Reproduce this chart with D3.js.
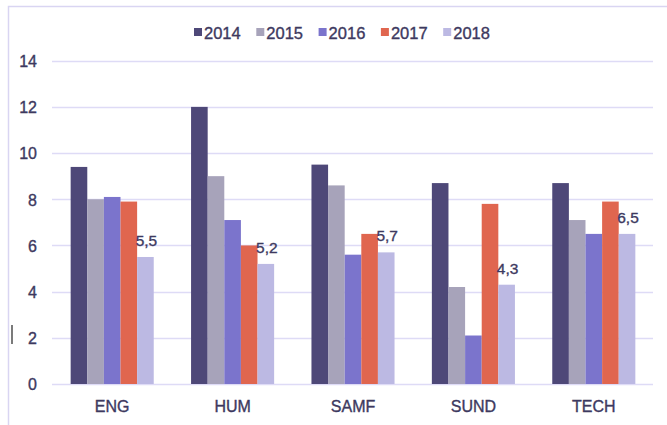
<!DOCTYPE html>
<html>
<head>
<meta charset="utf-8">
<script src="https://cdn.jsdelivr.net/npm/d3@7"></script>
<style>
  html, body { margin: 0; padding: 0; background: #ffffff; }
  svg { display: block; font-family: "Liberation Sans", Arial, sans-serif; }
  svg text { stroke: #3d3960; stroke-width: 0.35px; }
</style>
</head>
<body>
<svg id="chart" width="667" height="425"></svg>
<script>
const categories = ["ENG", "HUM", "SAMF", "SUND", "TECH"];
const seriesNames = ["2014", "2015", "2016", "2017", "2018"];
const v2014 = [9.4, 12.0, 9.5, 8.7, 8.7];
const v2015 = [8.0, 9.0, 8.6, 4.2, 7.1];
const v2016 = [8.1, 7.1, 5.6, 2.1, 6.5];
const v2017 = [7.9, 6.0, 6.5, 7.8, 7.9];
const v2018 = [5.5, 5.2, 5.7, 4.3, 6.5];
const yTicks = [0, 2, 4, 6, 8, 10, 12, 14];
const labeledSeries = "2018";

const colors = ["#4e4878", "#a7a3ba", "#7b74cc", "#e0664f", "#bcb9e3"];
const allValues = [v2014, v2015, v2016, v2017, v2018];
const series = seriesNames.map((name, i) => ({ name, color: colors[i], values: allValues[i] }));

const svg = d3.select("#chart");
const textColor = "#3d3960";
const gridColor = "#dedbf6";

// frame border (partial, top & left)
svg.append("path")
  .attr("d", "M8.5,425 L8.5,6.5 L667,6.5")
  .attr("fill", "none")
  .attr("stroke", "#d9d5f2")
  .attr("stroke-width", 1.5);

const x0 = d3.scaleBand().domain(categories).range([52, 654]).paddingInner(0.31).paddingOuter(0.155);
const x1 = d3.scaleBand().domain(seriesNames).range([0, x0.bandwidth()]).padding(0);
const y = d3.scaleLinear().domain([0, 14]).range([384, 60.7]);

// gridlines
svg.append("g").selectAll("line").data(yTicks).join("line")
  .attr("x1", 52).attr("x2", 653)
  .attr("y1", d => Math.round(y(d)) + 0.5).attr("y2", d => Math.round(y(d)) + 0.5)
  .attr("stroke", gridColor).attr("stroke-width", 1.5);

// y axis labels
const yAxis = d3.axisLeft(y).tickValues(yTicks).tickSize(0).tickPadding(0);
const yg = svg.append("g").attr("transform", "translate(37,0)").call(yAxis);
yg.select(".domain").remove();
yg.selectAll("text")
  .attr("fill", textColor).attr("font-size", "16px")
  .attr("font-family", "Liberation Sans, Arial, sans-serif")
  .attr("dy", "0.36em");

// bars
const groups = svg.append("g").selectAll("g").data(categories).join("g")
  .attr("transform", d => `translate(${x0(d)},0)`);
groups.selectAll("rect")
  .data((c, ci) => series.map(s => ({ s, v: s.values[ci] })))
  .join("rect")
  .attr("x", d => x1(d.s.name))
  .attr("width", x1.bandwidth())
  .attr("y", d => y(d.v))
  .attr("height", d => y(0) - y(d.v))
  .attr("fill", d => d.s.color);

// data labels for 2018
const fmt = v => d3.format(".1f")(v).replace(".", ",");
groups.selectAll("text.lbl")
  .data((c, ci) => series.filter(s => s.name === labeledSeries).map(s => ({ s, v: s.values[ci] })))
  .join("text")
  .attr("class", "lbl")
  .attr("x", d => x1(d.s.name) + x1.bandwidth() / 2 + 1)
  .attr("y", d => y(d.v) - 11)
  .attr("text-anchor", "middle")
  .attr("font-size", "15.5px")
  .attr("fill", textColor)
  .text(d => fmt(d.v));

// x axis labels
const xAxis = d3.axisBottom(x0).tickSize(0).tickPadding(0);
const xg = svg.append("g").attr("transform", "translate(0,401)").call(xAxis);
xg.select(".domain").remove();
xg.selectAll("text")
  .attr("fill", textColor).attr("font-size", "16px")
  .attr("font-family", "Liberation Sans, Arial, sans-serif");

// legend
const legend = svg.append("g").attr("transform", "translate(194,0)");
const item = legend.selectAll("g").data(series).join("g")
  .attr("transform", (d, i) => `translate(${i * 62.3},0)`);
item.append("rect").attr("x", 0).attr("y", 28).attr("width", 8).attr("height", 8)
  .attr("fill", d => d.color);
item.append("text").attr("x", 10).attr("y", 39)
  .attr("font-size", "16.5px").attr("fill", textColor)
  .text(d => d.name);

// small stray mark at left
svg.append("line").attr("x1", 12).attr("x2", 12).attr("y1", 325).attr("y2", 344)
  .attr("stroke", "#333333").attr("stroke-width", 1.3);
</script>
</body>
</html>
